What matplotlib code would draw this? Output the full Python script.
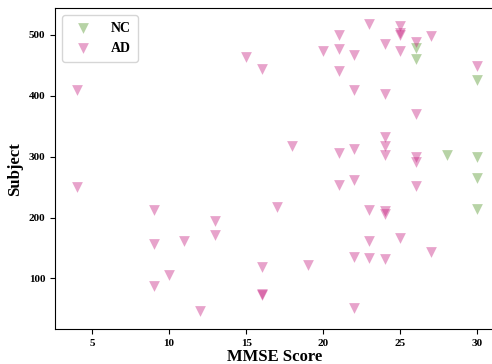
"""
MMSE score against subject index, NC vs AD
"""
import matplotlib.pyplot as plt

plt.rcParams["font.family"] = ["Liberation Serif", "DejaVu Serif"]
plt.rcParams["font.weight"] = "bold"

# NC subjects
nc_mmse = [26, 26, 30, 28, 30, 30, 30]
nc_subject = [478, 461, 426, 303, 300, 265, 214]

# AD subjects
ad_mmse = [
    4, 4, 9, 9, 9, 10, 11, 13, 13, 12,
    15, 16, 16, 16, 16, 17, 18, 19,
    20, 21, 21, 21, 21, 21,
    22, 22, 22, 22, 22, 22,
    23, 23, 23, 23,
    24, 24, 24, 24, 24, 24, 24, 24,
    25, 25, 25, 25, 25,
    26, 26, 26, 26, 26,
    27, 27,
    30,
]
ad_subject = [
    409, 250, 212, 157, 88, 106, 161, 195, 171, 46,
    464, 444, 119, 74, 72, 218, 318, 122,
    473, 500, 476, 441, 306, 254,
    467, 410, 313, 261, 135, 52,
    518, 212, 161, 134,
    485, 403, 333, 317, 303, 211, 205, 132,
    515, 503, 499, 473, 166,
    489, 370, 299, 291, 252,
    498, 143,
    448,
]

fig = plt.figure(figsize=(4.92, 3.64), dpi=100)
ax = fig.add_axes([0.1118, 0.0953, 0.893, 0.8827])

ax.scatter(nc_mmse, nc_subject, marker="v", s=60, color="#4d9221",
           alpha=0.4, linewidths=0, label="NC")
ax.scatter(ad_mmse, ad_subject, marker="v", s=60, color="#c51b7d",
           alpha=0.4, linewidths=0, label="AD")

ax.set_xlim(2.6, 31.1)
ax.set_ylim(16.4, 544)
ax.set_xticks([5, 10, 15, 20, 25, 30])
ax.set_yticks([100, 200, 300, 400, 500])
ax.tick_params(labelsize=8, length=3.5, width=0.8)
for lbl in ax.get_xticklabels() + ax.get_yticklabels():
    lbl.set_fontweight("bold")
ax.spines["right"].set_visible(False)

ax.set_xlabel("MMSE Score", fontsize=12, fontweight="bold", labelpad=1)
ax.set_ylabel("Subject", fontsize=12, fontweight="bold", labelpad=4)

ax.legend(loc="upper left", prop={"weight": "bold", "size": 10},
          borderpad=0.5, handletextpad=1.0)

plt.savefig("out.png", dpi=100)
